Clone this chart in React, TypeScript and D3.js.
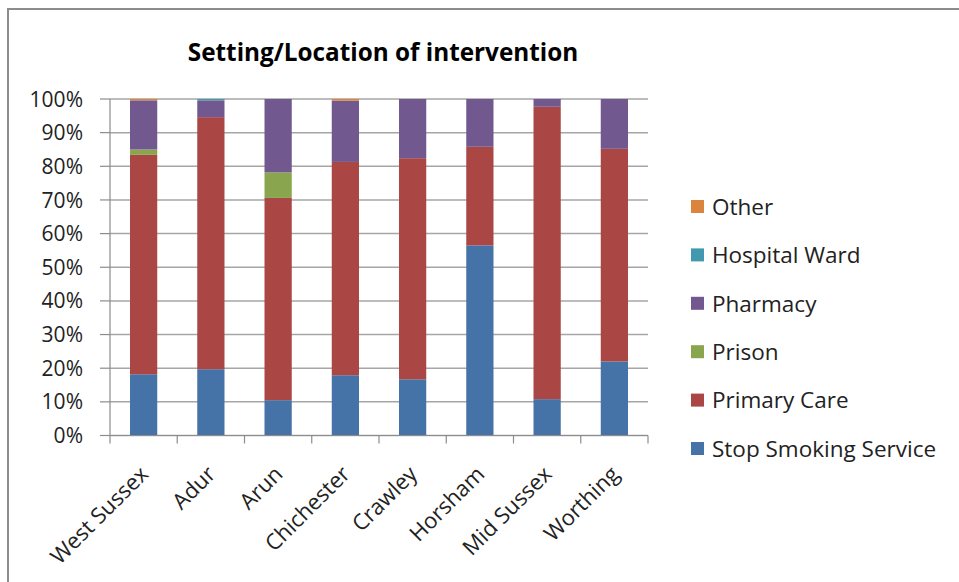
import React from "react";
import * as d3 from "d3";

// Percentage share of each setting, per district (each row sums to 100)
const districts = ["West Sussex", "Adur", "Arun", "Chichester", "Crawley", "Horsham", "Mid Sussex", "Worthing"];
const stopSmokingService = [18.2, 19.7, 10.5, 17.9, 16.7, 56.5, 10.8, 22.0];
const primaryCare = [65.2, 74.9, 60.1, 63.4, 65.7, 29.3, 86.9, 63.2];
const prison = [1.6, 0, 7.6, 0, 0, 0, 0, 0];
const pharmacy = [14.6, 5.0, 21.8, 18.2, 17.6, 14.2, 2.3, 14.8];
const hospitalWard = [0, 0.4, 0, 0, 0, 0, 0, 0];
const other = [0.4, 0, 0, 0.5, 0, 0, 0, 0];

const seriesNames = ["Stop Smoking Service", "Primary Care", "Prison", "Pharmacy", "Hospital Ward", "Other"];
const seriesColors = ["#4572A7", "#AA4643", "#89A54E", "#71588F", "#4198AF", "#DB843D"];
const yTicks = [0, 10, 20, 30, 40, 50, 60, 70, 80, 90, 100];
const title = "Setting/Location of intervention";

const W = 959;
const H = 582;
const plot = { left: 110, right: 648, top: 99, bottom: 435.5 };
const FONT = "'Open Sans', sans-serif";

export default function App() {
  const seriesValues = [stopSmokingService, primaryCare, prison, pharmacy, hospitalWard, other];
  const rows = districts.map((d, i) => {
    const r: Record<string, any> = { district: d };
    seriesNames.forEach((s, k) => (r[s] = seriesValues[k][i]));
    return r;
  });
  const stacked = d3.stack<any>().keys(seriesNames)(rows);

  const x = d3.scaleBand().domain(districts).range([plot.left, plot.right]).paddingInner(0).paddingOuter(0);
  const y = d3.scaleLinear().domain([0, 100]).range([plot.bottom, plot.top]);
  const band = x.bandwidth();
  const barW = band * 0.405;

  const legendNames = [...seriesNames].reverse();
  const legendColors = [...seriesColors].reverse();
  const legendY = d3.scalePoint().domain(legendNames).range([207, 449]);

  return (
    <div style={{ position: "absolute", left: 0, top: 0 }}>
      <svg width={W} height={H} style={{ display: "block", background: "#fff" }}>
        {/* chart frame */}
        <rect x={8} y={9} width={W + 10} height={H + 10} fill="#fff" stroke="#8c8c8c" strokeWidth={2} />

        <text x={383} y={61} textAnchor="middle" fontFamily={FONT} fontWeight="bold" fontSize={24.3} fill="#000">
          {title}
        </text>

        {/* gridlines and y axis */}
        {yTicks.map((t) => (
          <g key={t}>
            <line x1={plot.left} x2={plot.right} y1={y(t)} y2={y(t)} stroke="#a6a6a6" strokeWidth={1.5} />
            <line x1={plot.left - 10} x2={plot.left} y1={y(t)} y2={y(t)} stroke="#8c8c8c" strokeWidth={1.2} />
            <text x={83} y={y(t)} dy="0.36em" textAnchor="end" fontFamily={FONT} fontSize={21} fill="#222">
              {t}%
            </text>
          </g>
        ))}

        {/* stacked bars */}
        {stacked.map((s, k) => (
          <g key={s.key} fill={seriesColors[k]}>
            {s.map((d, i) =>
              d[1] - d[0] > 0 ? (
                <rect
                  key={i}
                  x={(x(districts[i]) as number) + (band - barW) / 2}
                  y={y(d[1])}
                  width={barW}
                  height={y(d[0]) - y(d[1])}
                />
              ) : null
            )}
          </g>
        ))}

        {/* axes lines */}
        <line x1={plot.left} x2={plot.left} y1={plot.top} y2={plot.bottom} stroke="#8c8c8c" strokeWidth={1.2} />
        <line x1={plot.left} x2={plot.right} y1={plot.bottom} y2={plot.bottom} stroke="#8c8c8c" strokeWidth={1.2} />
        {[...districts.map((d) => x(d) as number), plot.right].map((bx, i) => (
          <line key={i} x1={bx} x2={bx} y1={plot.bottom} y2={plot.bottom + 8} stroke="#8c8c8c" strokeWidth={1.2} />
        ))}

        {/* category labels */}
        {districts.map((d) => {
          const cx = (x(d) as number) + band / 2 + 6;
          const cy = plot.bottom + 40;
          return (
            <text
              key={d}
              transform={`translate(${cx},${cy}) rotate(-45)`}
              textAnchor="end"
              fontFamily={FONT}
              fontSize={22}
              fill="#222"
            >
              {d}
            </text>
          );
        })}

        {/* legend */}
        {legendNames.map((n, i) => (
          <g key={n} transform={`translate(691,${legendY(n)})`}>
            <rect x={0} y={-7} width={13} height={13} fill={legendColors[i]} />
            <text x={21} y={0} dy="0.35em" fontFamily={FONT} fontSize={22.5} fill="#222">
              {n}
            </text>
          </g>
        ))}
      </svg>
    </div>
  );
}
